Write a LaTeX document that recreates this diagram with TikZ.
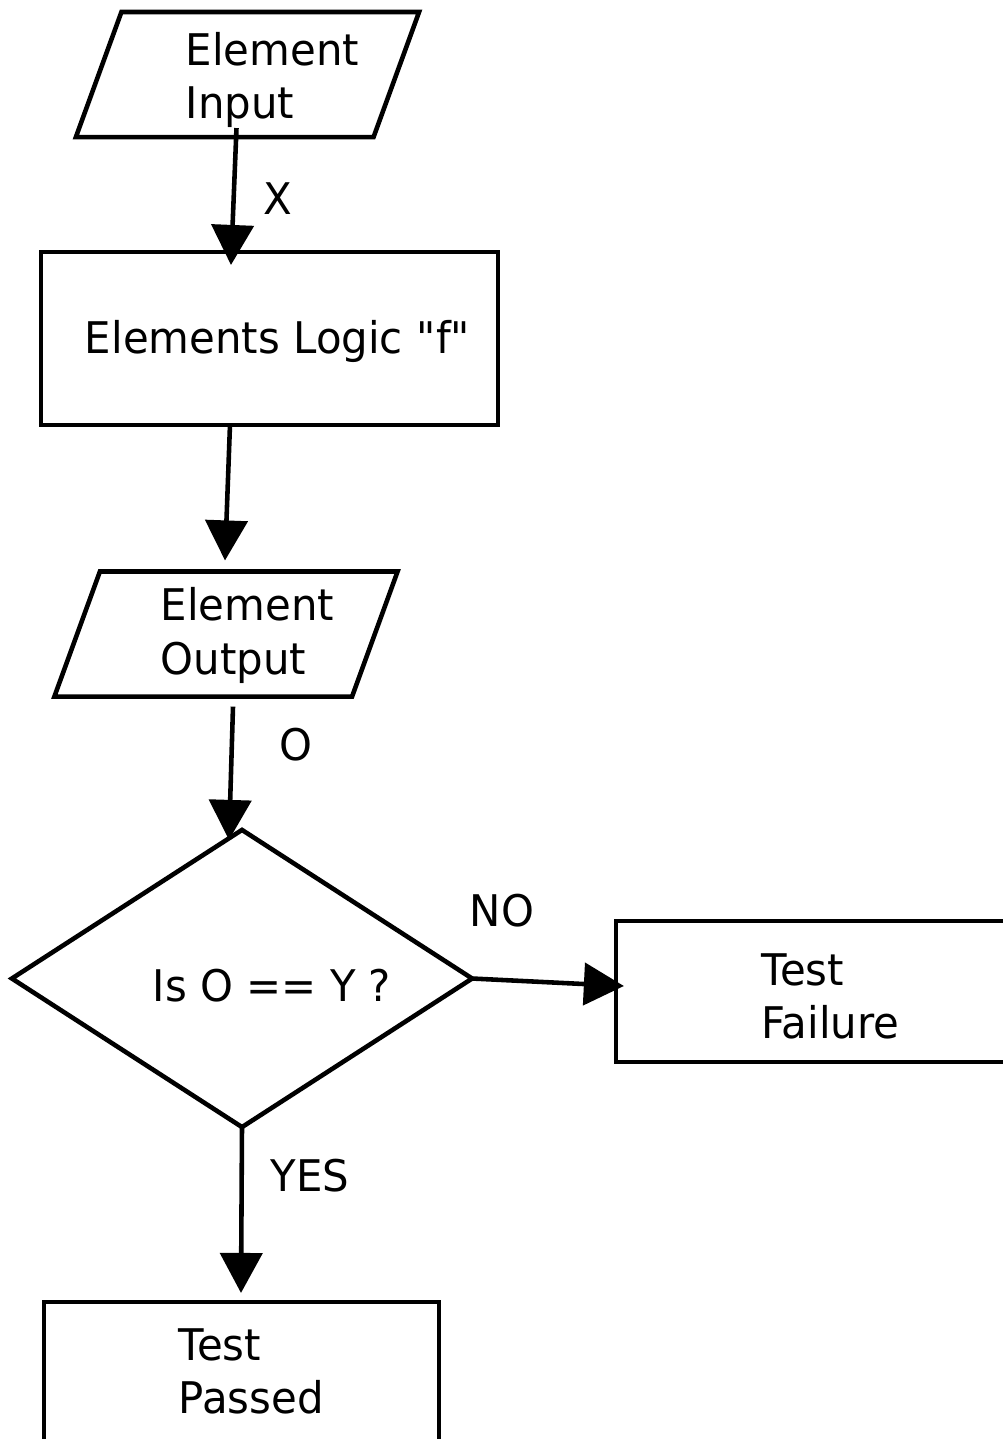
\documentclass[tikz,border=0pt]{standalone}
\usepackage{fontspec}
\setmainfont[FakeStretch=0.96]{DejaVu Sans}
\usetikzlibrary{shapes.geometric,arrows.meta}

\tikzset{
  every node/.style={font=\fontsize{12.4}{15.1}\selectfont},
  io/.style={trapezium, trapezium left angle=70, trapezium right angle=110,
    draw, line width=1.3pt, outer sep=0pt, minimum width=0pt, minimum height=0pt,
    inner xsep=1.26cm, inner ysep=0.625cm},
  procbox/.style={rectangle, draw, line width=1.3pt, outer sep=0pt},
  decision/.style={diamond, draw, line width=1.3pt, outer sep=0pt,
    minimum width=4.6cm, minimum height=2.97cm},
  txt/.style={align=left, anchor=west, inner sep=0pt},
  flow/.style={-{Triangle[length=0.4cm,width=0.42cm]}, line width=1.3pt},
}

\begin{document}
\begin{tikzpicture}[x=0.01cm, y=-0.01cm]
    \useasboundingbox (0,0) rectangle (1003,1439);
    \clip (0,0) rectangle (1003,1439);
    % Entrada
    \node[io] (inp) at (247.5,74.5) {};
    \node[txt] (inp-t) at (185,80) {Element\\Input};
    % Logica del elemento
    \node[procbox, minimum width=4.57cm, minimum height=1.73cm] (logic) at (269.5,338.5) {};
    \node (logic-t) at (278,341) {Elements Logic \textquotedbl f\textquotedbl};
    % Salida
    \node[io] (out) at (226,634) {};
    \node[txt] (out-t) at (160,635.5) {Element\\Output};
    % Comparacion
    \node[decision] (dec) at (242,978.5) {};
    \node (dec-t) at (272,986) {Is O == Y ?};
    % Resultados
    \node[procbox, minimum width=3.94cm, minimum height=1.41cm] (fail) at (813,991.5) {};
    \node[txt] (fail-t) at (761,996.5) {Test\\Failure};
    \node[procbox, minimum width=3.95cm, minimum height=1.68cm] (pass) at (241.5,1386) {};
    \node[txt] (pass-t) at (178,1371) {Test\\Passed};
    % Flechas
    \draw[flow] ([xshift=-0.11cm,yshift=0.09cm]inp.south) -- ([xshift=-0.385cm,yshift=-0.13cm]logic.north);
    \draw[flow] ([xshift=-0.395cm]logic.south) -- ([xshift=-0.01cm,yshift=0.11cm]out.north);
    \draw[flow] ([xshift=0.07cm,yshift=-0.10cm]out.south) -- ([xshift=-0.13cm,yshift=-0.10cm]dec.north);
    \draw[flow] (dec.east) -- ([xshift=0.08cm,yshift=0.055cm]fail.west);
    \draw[flow] (dec.south) -- ([xshift=-0.005cm,yshift=0.09cm]pass.north);
    % Etiquetas
    \node (lx) at (278,199) {X};
    \node (lo) at (296,745) {O};
    \node (lno) at (502,911) {NO};
    \node (lyes) at (310,1176) {YES};
\end{tikzpicture}
\end{document}
